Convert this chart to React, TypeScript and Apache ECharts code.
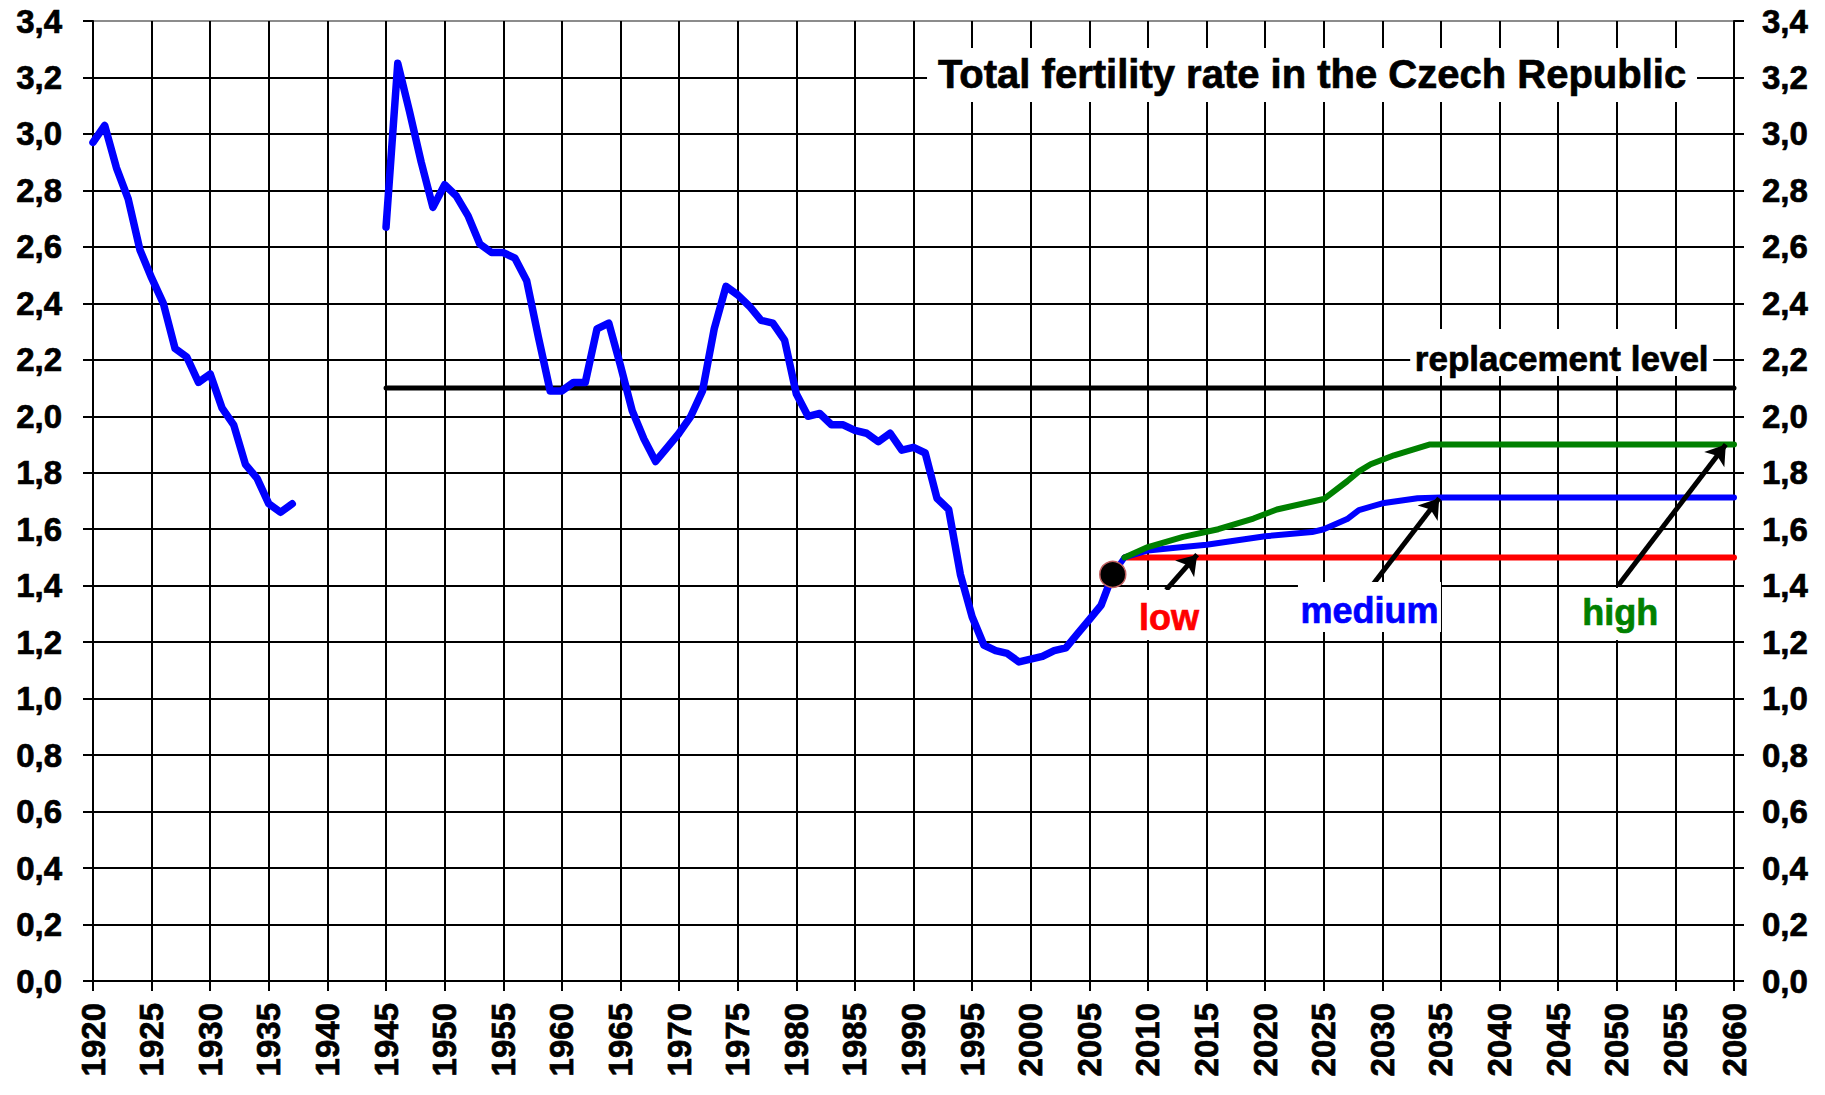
import React, { useEffect, useRef } from "react";
import * as echarts from "echarts";

// ---- Data ----
const histYearsA = [1920, 1921, 1922, 1923, 1924, 1925, 1926, 1927, 1928, 1929, 1930, 1931, 1932, 1933, 1934, 1935, 1936, 1937];
const histValuesA = [2.97, 3.03, 2.88, 2.77, 2.59, 2.49, 2.4, 2.24, 2.21, 2.12, 2.15, 2.03, 1.97, 1.83, 1.78, 1.69, 1.66, 1.69];

const histYearsB = [
  1945, 1946, 1947, 1948, 1949, 1950, 1951, 1952, 1953, 1954, 1955, 1956, 1957, 1958, 1959, 1960,
  1961, 1962, 1963, 1964, 1965, 1966, 1967, 1968, 1969, 1970, 1971, 1972, 1973, 1974, 1975, 1976,
  1977, 1978, 1979, 1980, 1981, 1982, 1983, 1984, 1985, 1986, 1987, 1988, 1989, 1990, 1991, 1992,
  1993, 1994, 1995, 1996, 1997, 1998, 1999, 2000, 2001, 2002, 2003, 2004, 2005, 2006, 2007,
];
const histValuesB = [
  2.67, 3.25, 3.08, 2.9, 2.74, 2.82, 2.78, 2.71, 2.61, 2.58, 2.58, 2.56, 2.48, 2.28, 2.09, 2.09,
  2.12, 2.12, 2.31, 2.33, 2.18, 2.02, 1.92, 1.84, 1.89, 1.94, 2.0, 2.09, 2.31, 2.46, 2.43, 2.39,
  2.34, 2.33, 2.27, 2.08, 2.0, 2.01, 1.97, 1.97, 1.95, 1.94, 1.91, 1.94, 1.88, 1.89, 1.87, 1.71,
  1.67, 1.44, 1.29, 1.19, 1.17, 1.16, 1.13, 1.14, 1.15, 1.17, 1.18, 1.23, 1.28, 1.33, 1.44,
];

const lowYears = [2008, 2060];
const lowValues = [1.5, 1.5];

const mediumYears = [2007, 2008, 2010, 2013, 2015, 2020, 2024, 2025, 2027, 2028, 2030, 2033, 2035, 2060];
const mediumValues = [1.44, 1.5, 1.525, 1.537, 1.545, 1.575, 1.59, 1.6, 1.636, 1.668, 1.692, 1.71, 1.712, 1.712];

const highYears = [2008, 2010, 2013, 2016, 2019, 2021, 2025, 2027, 2028, 2029, 2031, 2034, 2060];
const highValues = [1.5, 1.537, 1.573, 1.6, 1.638, 1.67, 1.707, 1.77, 1.805, 1.83, 1.862, 1.9, 1.9];

const replacementYears = [1945, 2060];
const replacementValues = [2.1, 2.1];

const lastObserved = [2007, 1.44];

// arrows pointing from scenario labels to the lines
const arrowStarts = [[2011.55, 1.385], [2028.96, 1.392], [2050.1, 1.4]];
const arrowEnds = [[2014.2, 1.51], [2034.85, 1.71], [2059.3, 1.9]];

// text annotations
const annotationTexts = ["Total fertility rate in the Czech Republic", "replacement level", "low", "medium", "high"];
const annotationAnchors = [[2024.0, 3.212], [2045.3, 2.203], [2011.8, 1.287], [2028.9, 1.312], [2050.3, 1.305]];
const annotationColors = ["#000000", "#000000", "#ff0000", "#0000ff", "#008000"];
const annotationFontSizes = [40, 35, 36, 36, 36];
const annotationBoxes = [[770, 54, 1], [303, 47, -6.5], [63, 50, -2.5], [143, 50, -3.5], [80, 52, 1.5]];

// axes
const X_MIN = 1920;
const X_MAX = 2060;
const X_STEP = 5;
const Y_MIN = 0;
const Y_MAX = 3.4;
const Y_STEP = 0.2;

const FONT = "'Liberation Sans', Arial, sans-serif";

const zip = (xs: number[], ys: number[]) => xs.map((x, i) => [x, ys[i]]);

export default function App() {
  const ref = useRef<HTMLDivElement>(null);

  useEffect(() => {
    if (!ref.current) return;
    const chart = echarts.init(ref.current, null, { renderer: "svg" });

    const nY = Math.round((Y_MAX - Y_MIN) / Y_STEP) + 1;
    const ySplitColors = Array.from({ length: nY }, (_, i) => (i === nY - 1 ? "#8c8c8c" : "#000000"));

    const yLabel = {
      fontFamily: FONT,
      fontWeight: "bold" as const,
      fontSize: 33,
      color: "#000",
      textBorderColor: "#000",
      textBorderWidth: 0.7,
      formatter: (v: number) => v.toFixed(1).replace(".", ","),
    };

    const lineSeries = (name: string, data: number[][], color: string, width: number, z: number) => ({
      name,
      type: "line" as const,
      data,
      showSymbol: false,
      symbol: "none",
      lineStyle: { color, width, join: "round", cap: "round" },
      z,
      silent: true,
    });

    chart.setOption({
      animation: false,
      backgroundColor: "#ffffff",
      grid: { left: 93, right: 91, top: 21, bottom: 114, containLabel: false },
      xAxis: {
        type: "value",
        min: X_MIN,
        max: X_MAX,
        interval: X_STEP,
        axisLine: { show: true, lineStyle: { color: "#000", width: 2 } },
        axisTick: { show: true, inside: false, length: 10, lineStyle: { color: "#000", width: 2 } },
        axisLabel: {
          rotate: 90,
          margin: 22,
          fontFamily: FONT,
          fontWeight: "bold",
          fontSize: 33,
          color: "#000",
          textBorderColor: "#000",
          textBorderWidth: 0.7,
          formatter: (v: number) => String(v),
        },
        splitLine: { show: true, lineStyle: { color: "#000", width: 2 } },
      },
      yAxis: [
        {
          type: "value",
          min: Y_MIN,
          max: Y_MAX,
          interval: Y_STEP,
          position: "left",
          axisLine: { show: true, lineStyle: { color: "#000", width: 2 } },
          axisTick: { show: true, inside: false, length: 10, lineStyle: { color: "#000", width: 2 } },
          axisLabel: { ...yLabel, margin: 31 },
          splitLine: { show: true, lineStyle: { color: ySplitColors, width: 2 } },
        },
        {
          type: "value",
          min: Y_MIN,
          max: Y_MAX,
          interval: Y_STEP,
          position: "right",
          axisLine: { show: true, lineStyle: { color: "#000", width: 2 } },
          axisTick: { show: true, inside: false, length: 10, lineStyle: { color: "#000", width: 2 } },
          axisLabel: { ...yLabel, margin: 28 },
          splitLine: { show: false },
        },
      ],
      series: [
        lineSeries("replacement", zip(replacementYears, replacementValues), "#000000", 5, 3),
        lineSeries("historyA", zip(histYearsA, histValuesA), "#0000ff", 7.5, 4),
        lineSeries("historyB", zip(histYearsB, histValuesB), "#0000ff", 7.5, 4),
        lineSeries("low", zip(lowYears, lowValues), "#ff0000", 6, 5),
        lineSeries("medium", zip(mediumYears, mediumValues), "#0000ff", 6, 6),
        lineSeries("high", zip(highYears, highValues), "#008000", 6, 7),
        {
          name: "arrows",
          type: "lines",
          coordinateSystem: "cartesian2d",
          data: arrowStarts.map((s, i) => ({ coords: [s, arrowEnds[i]] })),
          symbol: ["none", "arrow"],
          symbolSize: 19,
          lineStyle: { color: "#000", width: 5, opacity: 1, curveness: 0 },
          z: 9,
          silent: true,
        },
        {
          name: "2007",
          type: "scatter",
          data: [lastObserved],
          symbol: "circle",
          symbolSize: 26,
          itemStyle: { color: "#000000", borderColor: "#c06060", borderWidth: 1.5, opacity: 1 },
          z: 10,
          silent: true,
        },
      ],
    });

    const graphic: any[] = [];
    annotationTexts.forEach((text, i) => {
      const p = chart.convertToPixel({ gridIndex: 0 }, annotationAnchors[i]) as number[];
      const [bw, bh, dy] = annotationBoxes[i];
      graphic.push({
        type: "rect",
        shape: { x: p[0] - bw / 2, y: p[1] + dy - bh / 2, width: bw, height: bh },
        style: { fill: "#ffffff" },
        z: 50,
        silent: true,
      });
      graphic.push({
        type: "text",
        x: p[0],
        y: p[1],
        style: {
          text,
          fill: annotationColors[i],
          stroke: annotationColors[i],
          lineWidth: 0.7,
          font: `bold ${annotationFontSizes[i]}px ${FONT}`,
          textAlign: "center",
          textVerticalAlign: "middle",
        },
        z: 51,
        silent: true,
      });
    });
    chart.setOption({ graphic });

    return () => chart.dispose();
  }, []);

  return (
    <div
      ref={ref}
      style={{ position: "absolute", left: 0, top: 0, width: 1825, height: 1095, background: "#fff" }}
    />
  );
}
